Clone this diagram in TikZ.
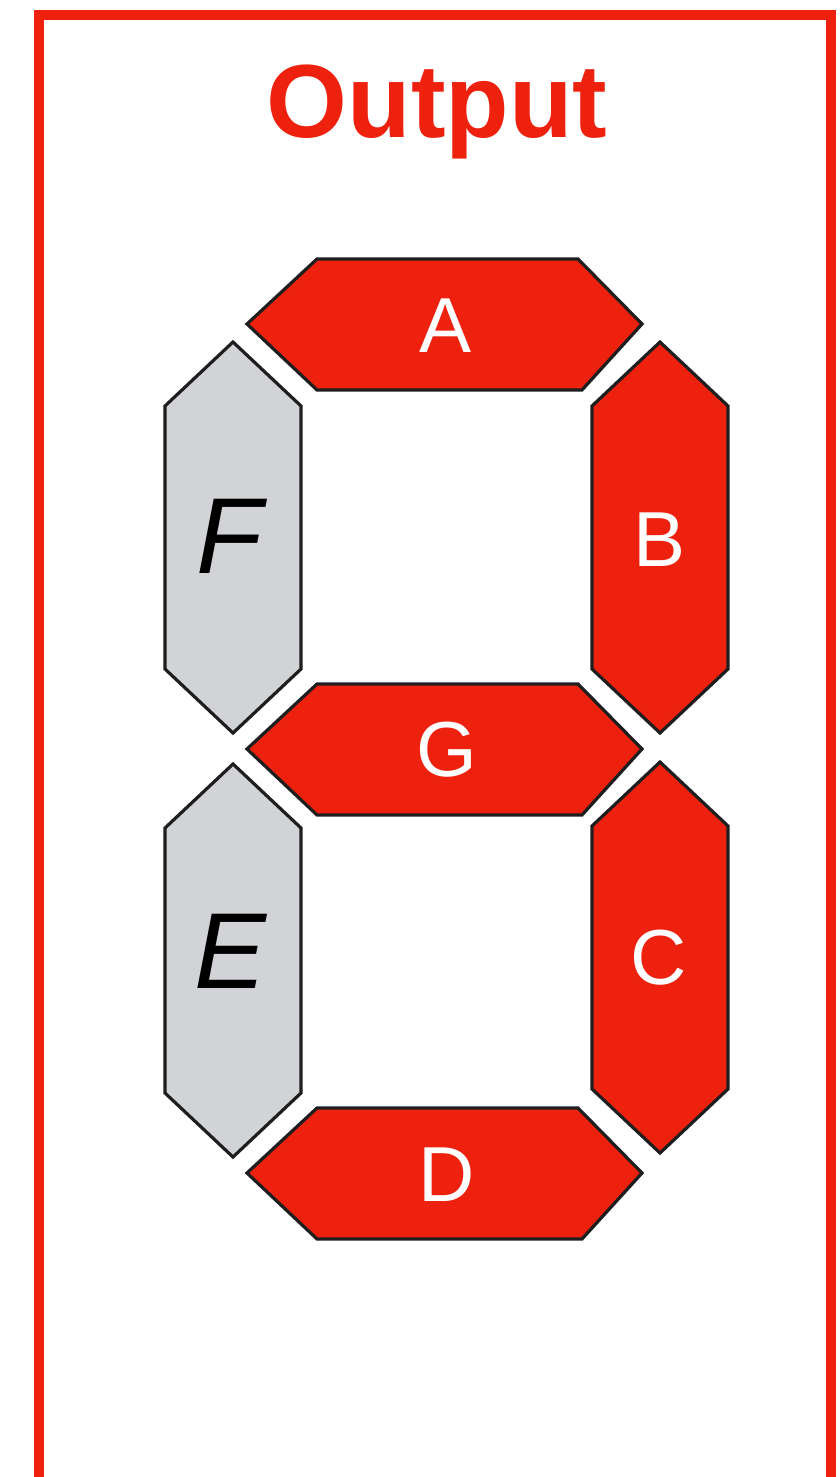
\documentclass[tikz,border=0pt]{standalone}
\usepackage{fontspec}
\setmainfont{Liberation Sans}
\definecolor{SegRed}{RGB}{237,33,13}
\definecolor{SegOff}{RGB}{209,211,214}
\definecolor{SegEdge}{RGB}{30,30,30}

\begin{document}
\begin{tikzpicture}[x=0.5pt,y=-0.5pt,
  seg on/.style={fill=SegRed,draw=SegEdge,line width=1.6pt,line join=miter},
  seg off/.style={fill=SegOff,draw=SegEdge,line width=1.6pt,line join=miter},
  lbl on/.style={text=white,font=\fontsize{39}{39}\selectfont},
  lbl off/.style={text=black,font=\itshape\fontsize{54}{54}\selectfont}
]
\useasboundingbox (0,0) rectangle (840,1477);
% outer frame, open at the bottom
\draw[SegRed,line width=5pt] (39,1520) -- (39,15) -- (831,15) -- (831,1520);
\node[text=SegRed,font=\bfseries\fontsize{52}{52}\selectfont,anchor=base] (title) at (437,137) {Output};

% horizontal segments
\foreach \y in {324,749,1173}
  \draw[seg on] (247,\y) -- (317,\y-65) -- (578,\y-65) -- (642,\y)
    -- (582,\y+66) -- (317,\y+66) -- cycle;
% vertical segments
\foreach \x/\t/\b/\st in {233/342/733/seg off,233/764/1157/seg off,
                          660/342/733/seg on,660/762/1153/seg on}
  \draw[\st] (\x,\t) -- (\x+68,\t+64) -- (\x+68,\b-64) -- (\x,\b)
    -- (\x-68,\b-64) -- (\x-68,\t+64) -- cycle;

\node[lbl on] (a) at (446,326) {A};
\node[lbl on] (b) at (660,540) {B};
\node[lbl on] (c) at (659,958) {C};
\node[lbl on] (d) at (447,1175) {D};
\node[lbl on] (g) at (447,750) {G};
\node[lbl off] (e) at (231,951) {E};
\node[lbl off] (f) at (229,536) {F};
\end{tikzpicture}
\end{document}
